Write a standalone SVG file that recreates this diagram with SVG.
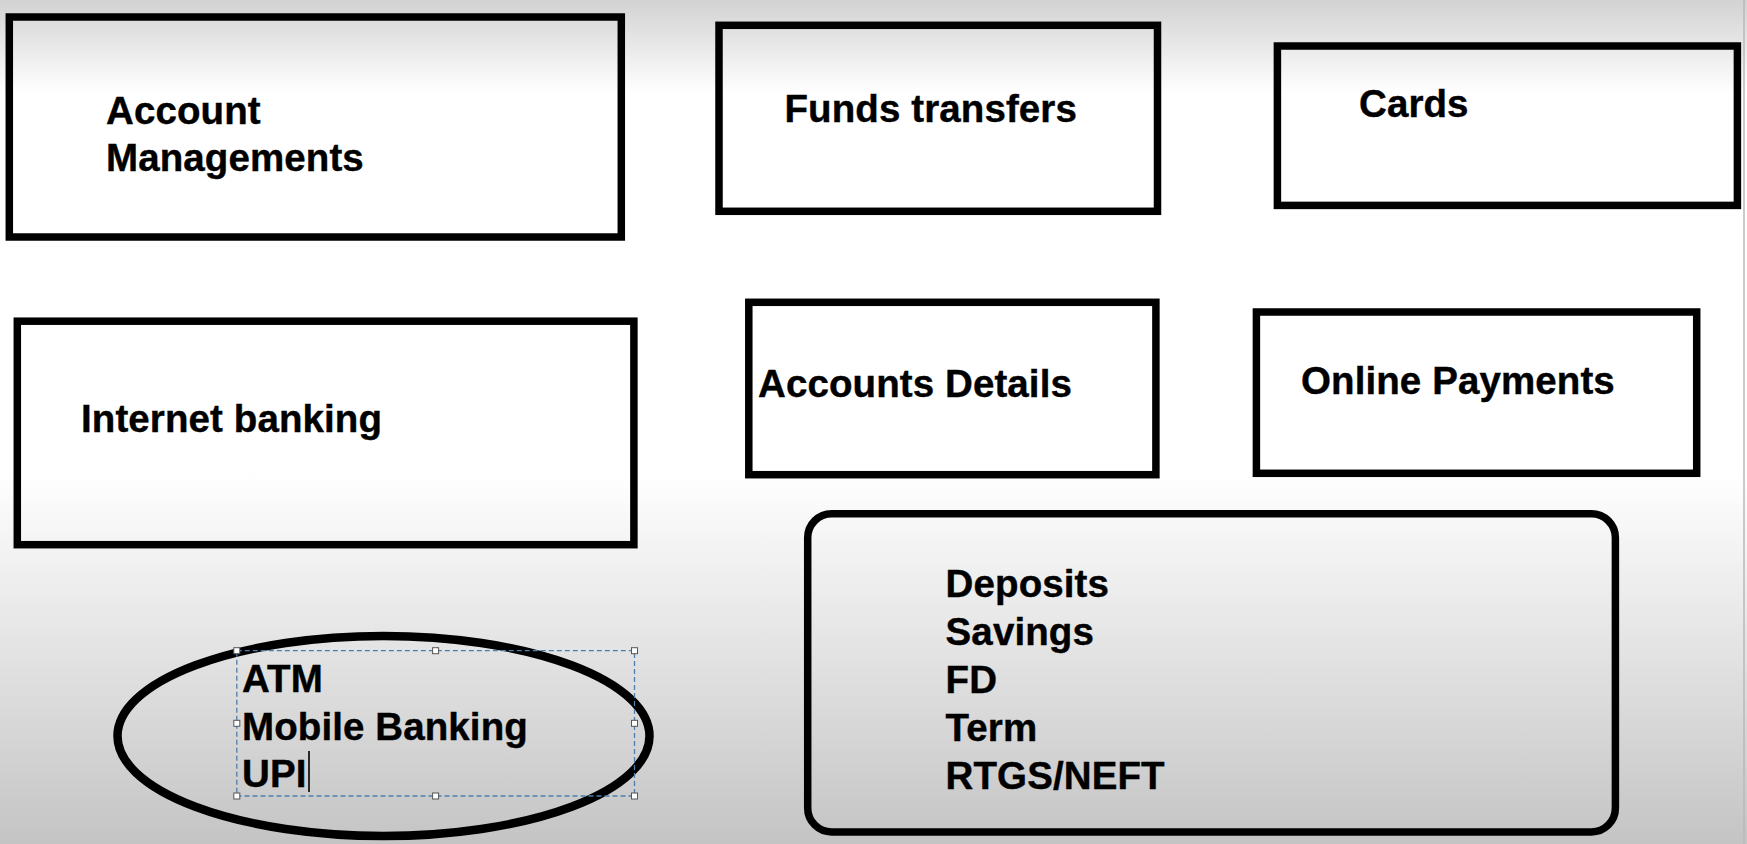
<svg xmlns="http://www.w3.org/2000/svg" width="1747" height="844" viewBox="0 0 1747 844">
  <defs>
    <linearGradient id="bg" x1="0" y1="0" x2="0" y2="1">
      <stop offset="0" stop-color="#d2d2d2"/>
      <stop offset="0.11" stop-color="#ffffff"/>
      <stop offset="0.56" stop-color="#ffffff"/>
      <stop offset="0.78" stop-color="#e2e2e2"/>
      <stop offset="1" stop-color="#c4c4c4"/>
    </linearGradient>
    <style>
      .box { fill: none; stroke: #000; stroke-width: 7.5; }
      .ell { fill: none; stroke: #000; stroke-width: 8.5; }
      .lbl { font-family: "Liberation Sans", Arial, sans-serif; font-weight: bold; font-size: 38.5px; letter-spacing: 0.1px; fill: #000; stroke: #000; stroke-width: 0.4; }
      .sel { fill: none; stroke: #4a7fb0; stroke-width: 1.3; stroke-dasharray: 5 3; }
      .hdl { fill: #fff; stroke: #555; stroke-width: 1; }
    </style>
  </defs>

  <rect x="0" y="0" width="1747" height="844" fill="url(#bg)"/>
  <line x1="1744" y1="0" x2="1744" y2="844" stroke="#b8b8b8" stroke-width="1.5"/>

  <g id="connectors"/>

  <g id="account-managements">
    <rect class="box" x="9.3" y="17" width="612" height="220"/>
    <text class="lbl" x="106" y="123.5">Account</text>
    <text class="lbl" x="106" y="171">Managements</text>
  </g>

  <g id="funds-transfers">
    <rect class="box" x="719" y="25.3" width="438.5" height="186"/>
    <text class="lbl" x="784.5" y="121.7">Funds transfers</text>
  </g>

  <g id="cards">
    <rect class="box" x="1277.4" y="46" width="460" height="159.4"/>
    <text class="lbl" x="1359" y="116.7">Cards</text>
  </g>

  <g id="internet-banking">
    <rect class="box" x="17.3" y="321.2" width="616.6" height="223.5"/>
    <text class="lbl" x="81" y="432.3">Internet banking</text>
  </g>

  <g id="accounts-details">
    <rect class="box" x="748.8" y="302.3" width="407.1" height="172.4"/>
    <text class="lbl" x="758" y="396.7">Accounts Details</text>
  </g>

  <g id="online-payments">
    <rect class="box" x="1256.4" y="312" width="440.3" height="161.3"/>
    <text class="lbl" x="1301" y="394.3">Online Payments</text>
  </g>

  <g id="deposits">
    <rect class="box" x="807.7" y="513.7" width="807.7" height="318.3" rx="24" ry="24"/>
    <text class="lbl" x="945.6" y="596.7">Deposits</text>
    <text class="lbl" x="945.6" y="644.5">Savings</text>
    <text class="lbl" x="945.6" y="692.7">FD</text>
    <text class="lbl" x="945.6" y="740.7">Term</text>
    <text class="lbl" x="945.6" y="788.7">RTGS/NEFT</text>
  </g>

  <g id="channels">
    <ellipse class="ell" cx="383.5" cy="736" rx="266" ry="100"/>
    <rect class="sel" x="236.8" y="650.7" width="397.7" height="145.3"/>
    <rect class="hdl" x="233.8" y="647.7" width="6" height="6"/>
    <rect class="hdl" x="432.6" y="647.7" width="6" height="6"/>
    <rect class="hdl" x="631.5" y="647.7" width="6" height="6"/>
    <rect class="hdl" x="233.8" y="720.3" width="6" height="6"/>
    <rect class="hdl" x="631.5" y="720.3" width="6" height="6"/>
    <rect class="hdl" x="233.8" y="793" width="6" height="6"/>
    <rect class="hdl" x="432.6" y="793" width="6" height="6"/>
    <rect class="hdl" x="631.5" y="793" width="6" height="6"/>
    <text class="lbl" x="242" y="691.7">ATM</text>
    <text class="lbl" x="242" y="740">Mobile Banking</text>
    <text class="lbl" x="242" y="786.7">UPI</text>
    <line x1="309" y1="751" x2="309" y2="792" stroke="#000" stroke-width="1.6"/>
  </g>
</svg>
